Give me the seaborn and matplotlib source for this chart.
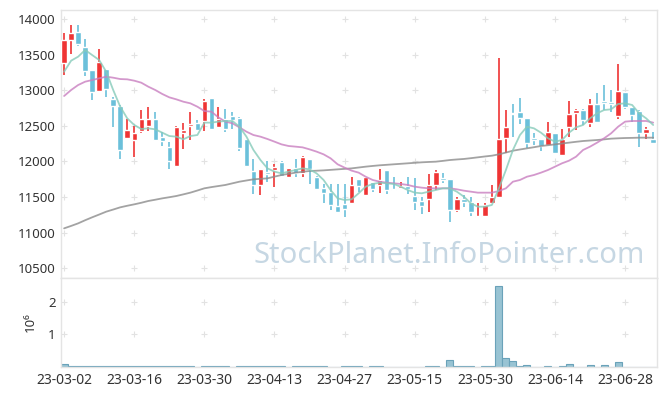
import numpy as np
import pandas as pd
import seaborn as sns
import matplotlib.pyplot as plt

# daily candles (trading days only)
opens = [13387, 13705, 13817, 13603, 13284, 12994, 13298, 12881, 12778, 12334,
         12301, 12432, 12498, 12596, 12339, 12208, 11941, 12404, 12498, 12540,
         12573, 12886, 12479, 12596, 12633, 12610, 12311, 11866, 11674, 11857,
         11880, 11992, 11786, 11903, 11833, 12035, 11786, 11623, 11567, 11379,
         11403, 11412, 11754, 11534, 11707, 11674, 11880, 11613, 11623, 11656,
         11515, 11445, 11478, 11674, 11763, 11749, 11319, 11468, 11436, 11216,
         11239, 11422, 11496, 12334, 12676, 12690, 12605, 12329, 12311, 12231,
         12395, 12095, 12479, 12676, 12722, 12545, 12807, 12849, 12835, 12643,
         12970, 12760, 12713, 12404, 12311]
highs = [13798, 13915, 13915, 13715, 13290, 13574, 13300, 12900, 12790, 12596,
         12498, 12722, 12769, 12690, 12420, 12278, 12498, 12545, 12690, 12580,
         12872, 12890, 12760, 12736, 12699, 12620, 12315, 12030, 11900, 12011,
         11964, 12000, 11910, 12030, 12081, 12040, 11790, 11684, 11684, 11684,
         11684, 11777, 11760, 11780, 11710, 11889, 11885, 11777, 11716, 11786,
         11763, 11506, 11824, 11880, 11833, 11752, 11506, 11529, 11506, 11412,
         11412, 11670, 13457, 12722, 12802, 12886, 12610, 12404, 12315, 12549,
         12400, 12456, 12849, 12732, 12730, 12872, 12966, 13073, 13003, 13368,
         12975, 12765, 12718, 12479, 12418]
lows = [13214, 13504, 13621, 13200, 12863, 12980, 12900, 12479, 12030, 12320,
        12058, 12395, 12432, 12300, 12217, 11889, 11930, 12175, 12301, 12430,
        12432, 12440, 12470, 12418, 12456, 12152, 11930, 11543, 11525, 11707,
        11637, 11777, 11780, 11786, 11777, 11684, 11610, 11422, 11319, 11272,
        11216, 11400, 11576, 11530, 11576, 11553, 11543, 11600, 11613, 11543,
        11319, 11262, 11286, 11599, 11693, 11150, 11295, 11366, 11234, 11210,
        11216, 11410, 11490, 12114, 12339, 12521, 12184, 12231, 12147, 12220,
        12120, 12090, 12348, 12442, 12512, 12488, 12555, 12722, 12699, 12591,
        12732, 12559, 12198, 12311, 12260]
closes = [13705, 13798, 13653, 13270, 12980, 13391, 13022, 12778, 12161, 12442,
          12400, 12596, 12596, 12306, 12292, 12011, 12479, 12442, 12526, 12442,
          12849, 12451, 12601, 12451, 12582, 12194, 11941, 11674, 11894, 11824,
          11922, 11796, 11903, 11833, 12063, 11889, 11613, 11562, 11389, 11295,
          11333, 11670, 11656, 11777, 11613, 11740, 11604, 11604, 11656, 11609,
          11436, 11375, 11670, 11847, 11740, 11319, 11468, 11431, 11295, 11234,
          11389, 11496, 12315, 12488, 12662, 12615, 12264, 12306, 12217, 12409,
          12124, 12315, 12666, 12722, 12582, 12807, 12559, 12825, 12811, 12989,
          12760, 12652, 12404, 12456, 12264]

# moving averages as drawn on the chart
ma_short = [13260, 13415, 13471, 13565, 13494, 13424, 13260, 13003, 12769, 12605,
            12512, 12456, 12465, 12451, 12404, 12357, 12348, 12311, 12357, 12371,
            12545, 12545, 12559, 12568, 12568, 12488, 12348, 12161, 12020, 11903,
            11857, 11833, 11857, 11880, 11903, 11889, 11833, 11740, 11599, 11482,
            11459, 11468, 11553, 11646, 11684, 11702, 11693, 11684, 11646, 11599,
            11562, 11553, 11576, 11599, 11623, 11623, 11576, 11506, 11412, 11365,
            11365, 11389, 11623, 11880, 12161, 12371, 12488, 12465, 12404, 12325,
            12278, 12301, 12404, 12479, 12512, 12605, 12676, 12722, 12732, 12807,
            12816, 12793, 12676, 12605, 12512]
ma_mid = [12919, 13003, 13073, 13120, 13143, 13167, 13190, 13176, 13157, 13153,
          13134, 13106, 13050, 13003, 12947, 12900, 12872, 12839, 12816, 12769,
          12708, 12699, 12619, 12559, 12535, 12479, 12418, 12371, 12348, 12315,
          12278, 12240, 12217, 12208, 12198, 12170, 12138, 12100, 12044, 11960,
          11913, 11871, 11843, 11786, 11740, 11716, 11702, 11693, 11684, 11670,
          11646, 11632, 11623, 11623, 11623, 11623, 11609, 11590, 11576, 11562,
          11562, 11562, 11585, 11623, 11716, 11740, 11786, 11810, 11843, 11880,
          11927, 11974, 12011, 12067, 12161, 12208, 12264, 12325, 12395, 12488,
          12559, 12568, 12568, 12568, 12545]
ma_long = [11061, 11095, 11131, 11175, 11216, 11255, 11295, 11325, 11356, 11378,
           11398, 11420, 11445, 11463, 11482, 11498, 11515, 11538, 11562, 11592,
           11623, 11640, 11655, 11670, 11693, 11716, 11733, 11749, 11756, 11763,
           11787, 11810, 11826, 11843, 11855, 11866, 11870, 11875, 11882, 11889,
           11896, 11903, 11915, 11927, 11937, 11946, 11953, 11960, 11967, 11974,
           11981, 11988, 11993, 11997, 12008, 12020, 12028, 12035, 12046, 12058,
           12070, 12081, 12100, 12125, 12151, 12168, 12184, 12200, 12217, 12228,
           12240, 12252, 12264, 12276, 12287, 12294, 12301, 12310, 12320, 12325,
           12329, 12331, 12334, 12334, 12334]

volumes = [105000, 40000, 40000, 40000, 40000, 40000, 20000, 40000, 40000, 20000,
           20000, 20000, 20000, 20000, 20000, 40000, 40000, 20000, 20000, 0,
           40000, 20000, 20000, 20000, 0, 20000, 40000, 40000, 20000, 20000,
           20000, 20000, 0, 20000, 20000, 20000, 20000, 20000, 0, 0,
           40000, 20000, 20000, 0, 20000, 20000, 0, 0, 0, 0,
           0, 0, 20000, 20000, 0, 205000, 20000, 20000, 20000, 0,
           20000, 40000, 2480000, 287000, 170000, 45000, 72000, 15000, 15000, 40000,
           15000, 40000, 100000, 15000, 15000, 70000, 15000, 70000, 15000, 160000,
           15000, 15000, 15000, 15000, 15000]

tick_labels = ["23-03-02", "23-03-16", "23-03-30", "23-04-13", "23-04-27",
               "23-05-15", "23-05-30", "23-06-14", "23-06-28"]

df = pd.DataFrame({"open": opens, "high": highs, "low": lows, "close": closes,
                   "ma_short": ma_short, "ma_mid": ma_mid, "ma_long": ma_long,
                   "volume": volumes})
df["idx"] = np.arange(len(df))
df["vol_m"] = df["volume"] / 1e6

RED = "#ef3434"
BLUE = "#6bc0da"
TXT = "#333333"
EDGE = "#e4e4e4"

sns.set_style("white")
plt.rcParams["font.family"] = ["Noto Sans", "DejaVu Sans"]

fig = plt.figure(figsize=(6.65, 3.96), dpi=100)
ax = fig.add_axes([0.0922, 0.2980, 0.8953, 0.6767])
axv = fig.add_axes([0.0922, 0.0732, 0.8953, 0.2248], sharex=ax)

# candles: red = up, blue = down
up = df["close"] >= df["open"]
colors = np.where(up, RED, BLUE)
ax.vlines(df["idx"], df["low"], df["high"], colors=colors, lw=1.2, zorder=2)
body = (df["close"] - df["open"]).abs().clip(lower=12)
ax.bar(df["idx"], body, bottom=np.minimum(df["open"], df["close"]),
       width=0.78, color=colors, zorder=3)

sns.lineplot(data=df, x="idx", y="ma_long", ax=ax, color="#8c8c8c", lw=1.3, alpha=0.8, zorder=4)
sns.lineplot(data=df, x="idx", y="ma_mid", ax=ax, color="#c97fc0", lw=1.3, alpha=0.8, zorder=4)
sns.lineplot(data=df, x="idx", y="ma_short", ax=ax, color="#86cbba", lw=1.3, alpha=0.8, zorder=4)

# volume
sns.barplot(data=df, x="idx", y="vol_m", ax=axv, native_scale=True, width=1.0,
            color="#98c3d3", edgecolor="#6aa2b9", linewidth=0.8, saturation=1,
            errorbar=None, zorder=2)

xticks = np.arange(0, 81, 10)
price_ticks = np.arange(10500, 14001, 500)
vol_ticks = [1, 2]

# grid drawn as small crosses at tick intersections
gx, gy = np.meshgrid(xticks, price_ticks)
ax.scatter(gx.ravel(), gy.ravel(), marker="+", s=18, c="#e2e2e2", lw=0.8, zorder=0)
gx, gy = np.meshgrid(xticks, vol_ticks)
axv.scatter(gx.ravel(), gy.ravel(), marker="+", s=18, c="#e2e2e2", lw=0.8, zorder=0)

ax.set_xlim(-0.4, 84.5)
ax.set_ylim(10364, 14126)
axv.set_ylim(0, 2.73)

ax.set_yticks(price_ticks)
ax.set_yticklabels([str(v) for v in price_ticks])
axv.set_yticks(vol_ticks)
axv.set_yticklabels([str(v) for v in vol_ticks])
axv.set_xticks(xticks)
axv.set_xticklabels(tick_labels)
ax.tick_params(axis="x", labelbottom=False)

for a in (ax, axv):
    a.tick_params(length=0, labelsize=9.5, colors=TXT, pad=4)
    a.set_xlabel("")
    a.set_ylabel("")
    for s in a.spines.values():
        s.set_color(EDGE)
        s.set_linewidth(1)
axv.tick_params(axis="x", labelsize=10)

axv.set_ylabel("10⁶", fontsize=9.5, color=TXT, labelpad=8)

ax.text(0.651, 0.085, "StockPlanet.InfoPointer.com", transform=ax.transAxes,
        ha="center", va="center", fontsize=21, color="#c6d7e3", zorder=1)

fig.savefig("out.png", dpi=100)
